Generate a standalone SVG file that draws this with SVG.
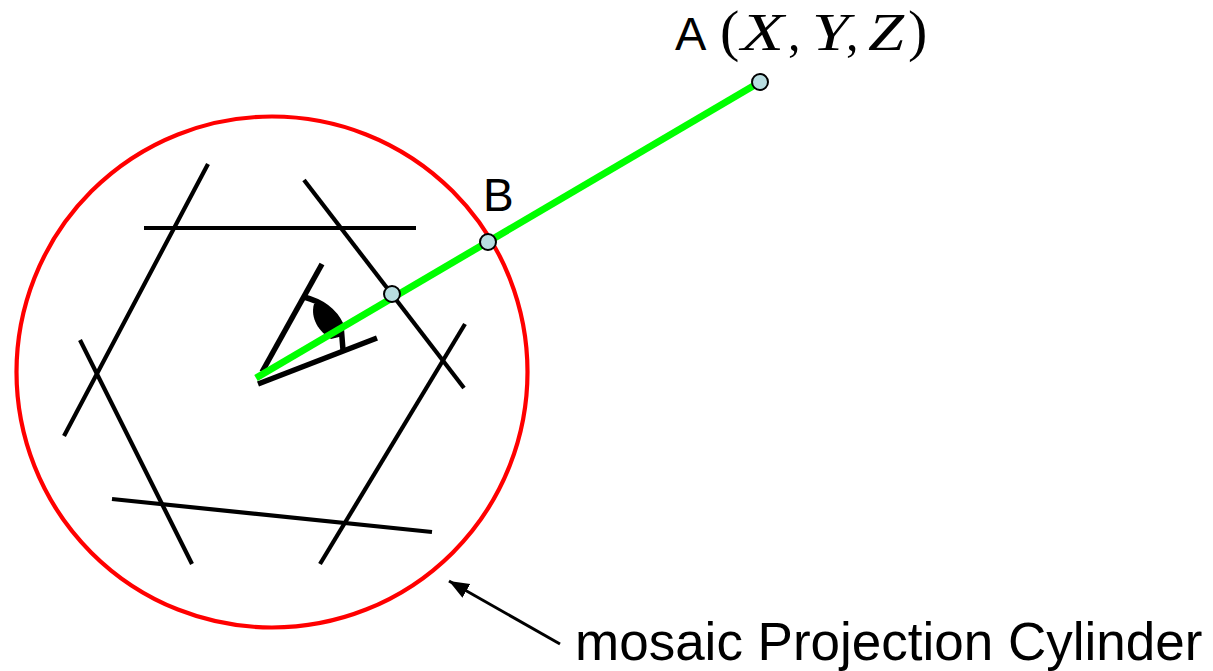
<svg xmlns="http://www.w3.org/2000/svg" width="1213" height="671" viewBox="0 0 1213 671">
<defs>
<style>
.t{font-family:"Liberation Sans",Arial,sans-serif;fill:#000}
.m{font-family:"Liberation Serif","Times New Roman",serif;fill:#000}
.i{font-style:italic;font-size:53px}
.c{font-size:50px}
.b{font-size:58px}
.s{stroke:#000;stroke-width:4.2;fill:none}
.e{stroke:#000;stroke-width:5.5;fill:none}
.p{fill:#b8dde0;stroke:#000;stroke-width:2}
</style>
<marker id="ah" markerUnits="userSpaceOnUse" markerWidth="24" markerHeight="20" refX="20" refY="8" orient="auto">
<path d="M0 0L20 8L0 16Z" fill="#000"/>
</marker>
</defs>
<rect width="1213" height="671" fill="#fff"/>
<g id="cylinder"><circle cx="272" cy="372" r="255.5" fill="none" stroke="#f00" stroke-width="4.2"/></g>
<g id="mosaic">
<path class="s" d="M208 164L64 436"/>
<path class="s" d="M144 228H416"/>
<path class="s" d="M304 180L464 388"/>
<path class="s" d="M465 324L320 564"/>
<path class="s" d="M432 532L112 499"/>
<path class="s" d="M192 564L80 340"/>
</g>
<g id="eye">
<path class="e" d="M322 264L262 372"/>
<path class="e" d="M258 384L377 338"/>
<path class="e" d="M304 297Q331 304 341 325L343 350"/>
<path d="M314 304C322 302 336 312 342 325L343 336L331 339C319 332 310 318 314 304Z" fill="#000"/>
</g>
<g id="connectors">
<path d="M256 378L760 82" stroke="#0f0" stroke-width="7" fill="none"/>
<path d="M560 644L449 581" stroke="#000" stroke-width="3" fill="none" marker-end="url(#ah)"/>
</g>
<g id="point-A"><circle class="p" cx="760" cy="82" r="8"/>
<text class="t" x="675" y="50" font-size="47">A</text>
<text class="m b" x="720" y="50">(</text>
<text class="m i" x="741" y="50" textLength="43" lengthAdjust="spacingAndGlyphs">X</text>
<text class="m c" x="788" y="50">,</text>
<text class="m i" x="812" y="50" textLength="37" lengthAdjust="spacingAndGlyphs">Y</text>
<text class="m c" x="846" y="50">,</text>
<text class="m i" x="868" y="50" textLength="36" lengthAdjust="spacingAndGlyphs">Z</text>
<text class="m b" x="908" y="50">)</text>
</g>
<g id="point-B"><circle class="p" cx="488" cy="242" r="8"/>
<text class="t" x="483" y="211" font-size="46">B</text></g>
<g id="point-C"><circle class="p" cx="392" cy="294" r="8"/></g>
<g id="label"><text class="t" x="575" y="660" font-size="53">mosaic Projection Cylinder</text></g>
</svg>
